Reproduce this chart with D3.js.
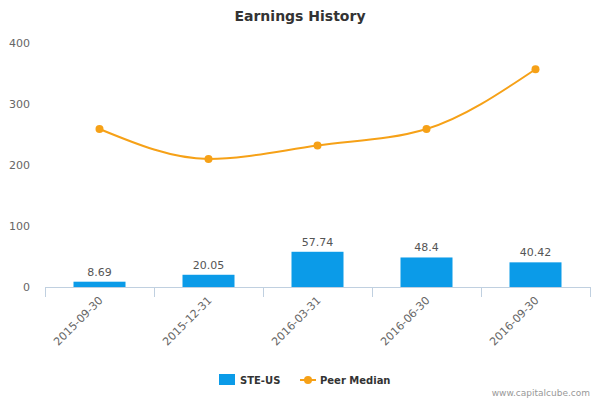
<!DOCTYPE html>
<meta charset="utf-8">
<title>Earnings History</title>
<body style="margin:0;background:#fff">
<script src="https://cdn.jsdelivr.net/npm/d3@7/dist/d3.min.js"></script>
<script>
var categories = ["2015-09-30", "2015-12-31", "2016-03-31", "2016-06-30", "2016-09-30"],
    steUS = [8.69, 20.05, 57.74, 48.4, 40.42],
    peerMedian = [259, 210, 232, 259, 357],
    yTicks = [0, 100, 200, 300, 400];

var width = 600, height = 400,
    plotLeft = 45, plotRight = 590, plotTop = 43, plotBottom = 287,
    font = "'DejaVu Sans', sans-serif";

var svg = d3.select("body").append("svg")
    .attr("width", width)
    .attr("height", height)
    .style("font-family", font);

var x = d3.scaleBand().domain(categories).range([plotLeft, plotRight]);
var y = d3.scaleLinear().domain([0, 400]).range([plotBottom, plotTop]);

svg.append("text")
    .attr("x", width / 2).attr("y", 21)
    .attr("text-anchor", "middle")
    .attr("font-size", 14).attr("font-weight", "bold").attr("fill", "#333")
    .text("Earnings History");

svg.append("g").selectAll("text")
    .data(yTicks)
    .enter().append("text")
    .attr("x", 30).attr("y", function(d) { return y(d) + 4; })
    .attr("text-anchor", "end")
    .attr("font-size", 11).attr("fill", "#666")
    .text(function(d) { return d; });

svg.append("line")
    .attr("x1", plotLeft).attr("x2", plotRight)
    .attr("y1", plotBottom + 0.5).attr("y2", plotBottom + 0.5)
    .attr("stroke", "#c0d0e0");

svg.append("g").selectAll("line")
    .data(d3.range(categories.length + 1))
    .enter().append("line")
    .attr("x1", function(i) { return Math.round(plotLeft + i * x.bandwidth()) + 0.5; })
    .attr("x2", function(i) { return Math.round(plotLeft + i * x.bandwidth()) + 0.5; })
    .attr("y1", plotBottom).attr("y2", plotBottom + 10)
    .attr("stroke", "#c0d0e0");

svg.append("g").selectAll("text")
    .data(categories)
    .enter().append("text")
    .attr("transform", function(d) {
        return "translate(" + (x(d) + x.bandwidth() / 2 + 4) + "," + (plotBottom + 14) + ") rotate(-45)";
    })
    .attr("text-anchor", "end")
    .attr("font-size", 11).attr("fill", "#666")
    .text(function(d) { return d; });

var barW = 52;
svg.append("g").selectAll("rect")
    .data(steUS)
    .enter().append("rect")
    .attr("x", function(d, i) { return x(categories[i]) + x.bandwidth() / 2 - barW / 2; })
    .attr("y", function(d) { return y(d); })
    .attr("width", barW)
    .attr("height", function(d) { return plotBottom - y(d); })
    .attr("fill", "#0b9be8");

svg.append("g").selectAll("text")
    .data(steUS)
    .enter().append("text")
    .attr("x", function(d, i) { return x(categories[i]) + x.bandwidth() / 2; })
    .attr("y", function(d) { return y(d) - 6; })
    .attr("text-anchor", "middle")
    .attr("font-size", 11).attr("fill", "#555")
    .text(function(d) { return d; });

var line = d3.line()
    .x(function(d, i) { return x(categories[i]) + x.bandwidth() / 2; })
    .y(function(d) { return y(d); })
    .curve(d3.curveMonotoneX);

svg.append("path")
    .datum(peerMedian)
    .attr("d", line)
    .attr("fill", "none")
    .attr("stroke", "#f6a117")
    .attr("stroke-width", 2);

svg.append("g").selectAll("circle")
    .data(peerMedian)
    .enter().append("circle")
    .attr("cx", function(d, i) { return x(categories[i]) + x.bandwidth() / 2; })
    .attr("cy", function(d) { return y(d); })
    .attr("r", 4)
    .attr("fill", "#f6a117");

var legend = svg.append("g").attr("font-size", 10).attr("font-weight", "bold").attr("fill", "#333");
legend.append("rect").attr("x", 219).attr("y", 374).attr("width", 16).attr("height", 11).attr("fill", "#0b9be8");
legend.append("text").attr("x", 240).attr("y", 384).text("STE-US");
legend.append("line").attr("x1", 300).attr("x2", 316).attr("y1", 380).attr("y2", 380)
    .attr("stroke", "#f6a117").attr("stroke-width", 2);
legend.append("circle").attr("cx", 308).attr("cy", 380).attr("r", 4).attr("fill", "#f6a117");
legend.append("text").attr("x", 320).attr("y", 384).text("Peer Median");

svg.append("text")
    .attr("x", 590).attr("y", 396)
    .attr("text-anchor", "end")
    .attr("font-size", 9).attr("fill", "#999")
    .text("www.capitalcube.com");
</script>
